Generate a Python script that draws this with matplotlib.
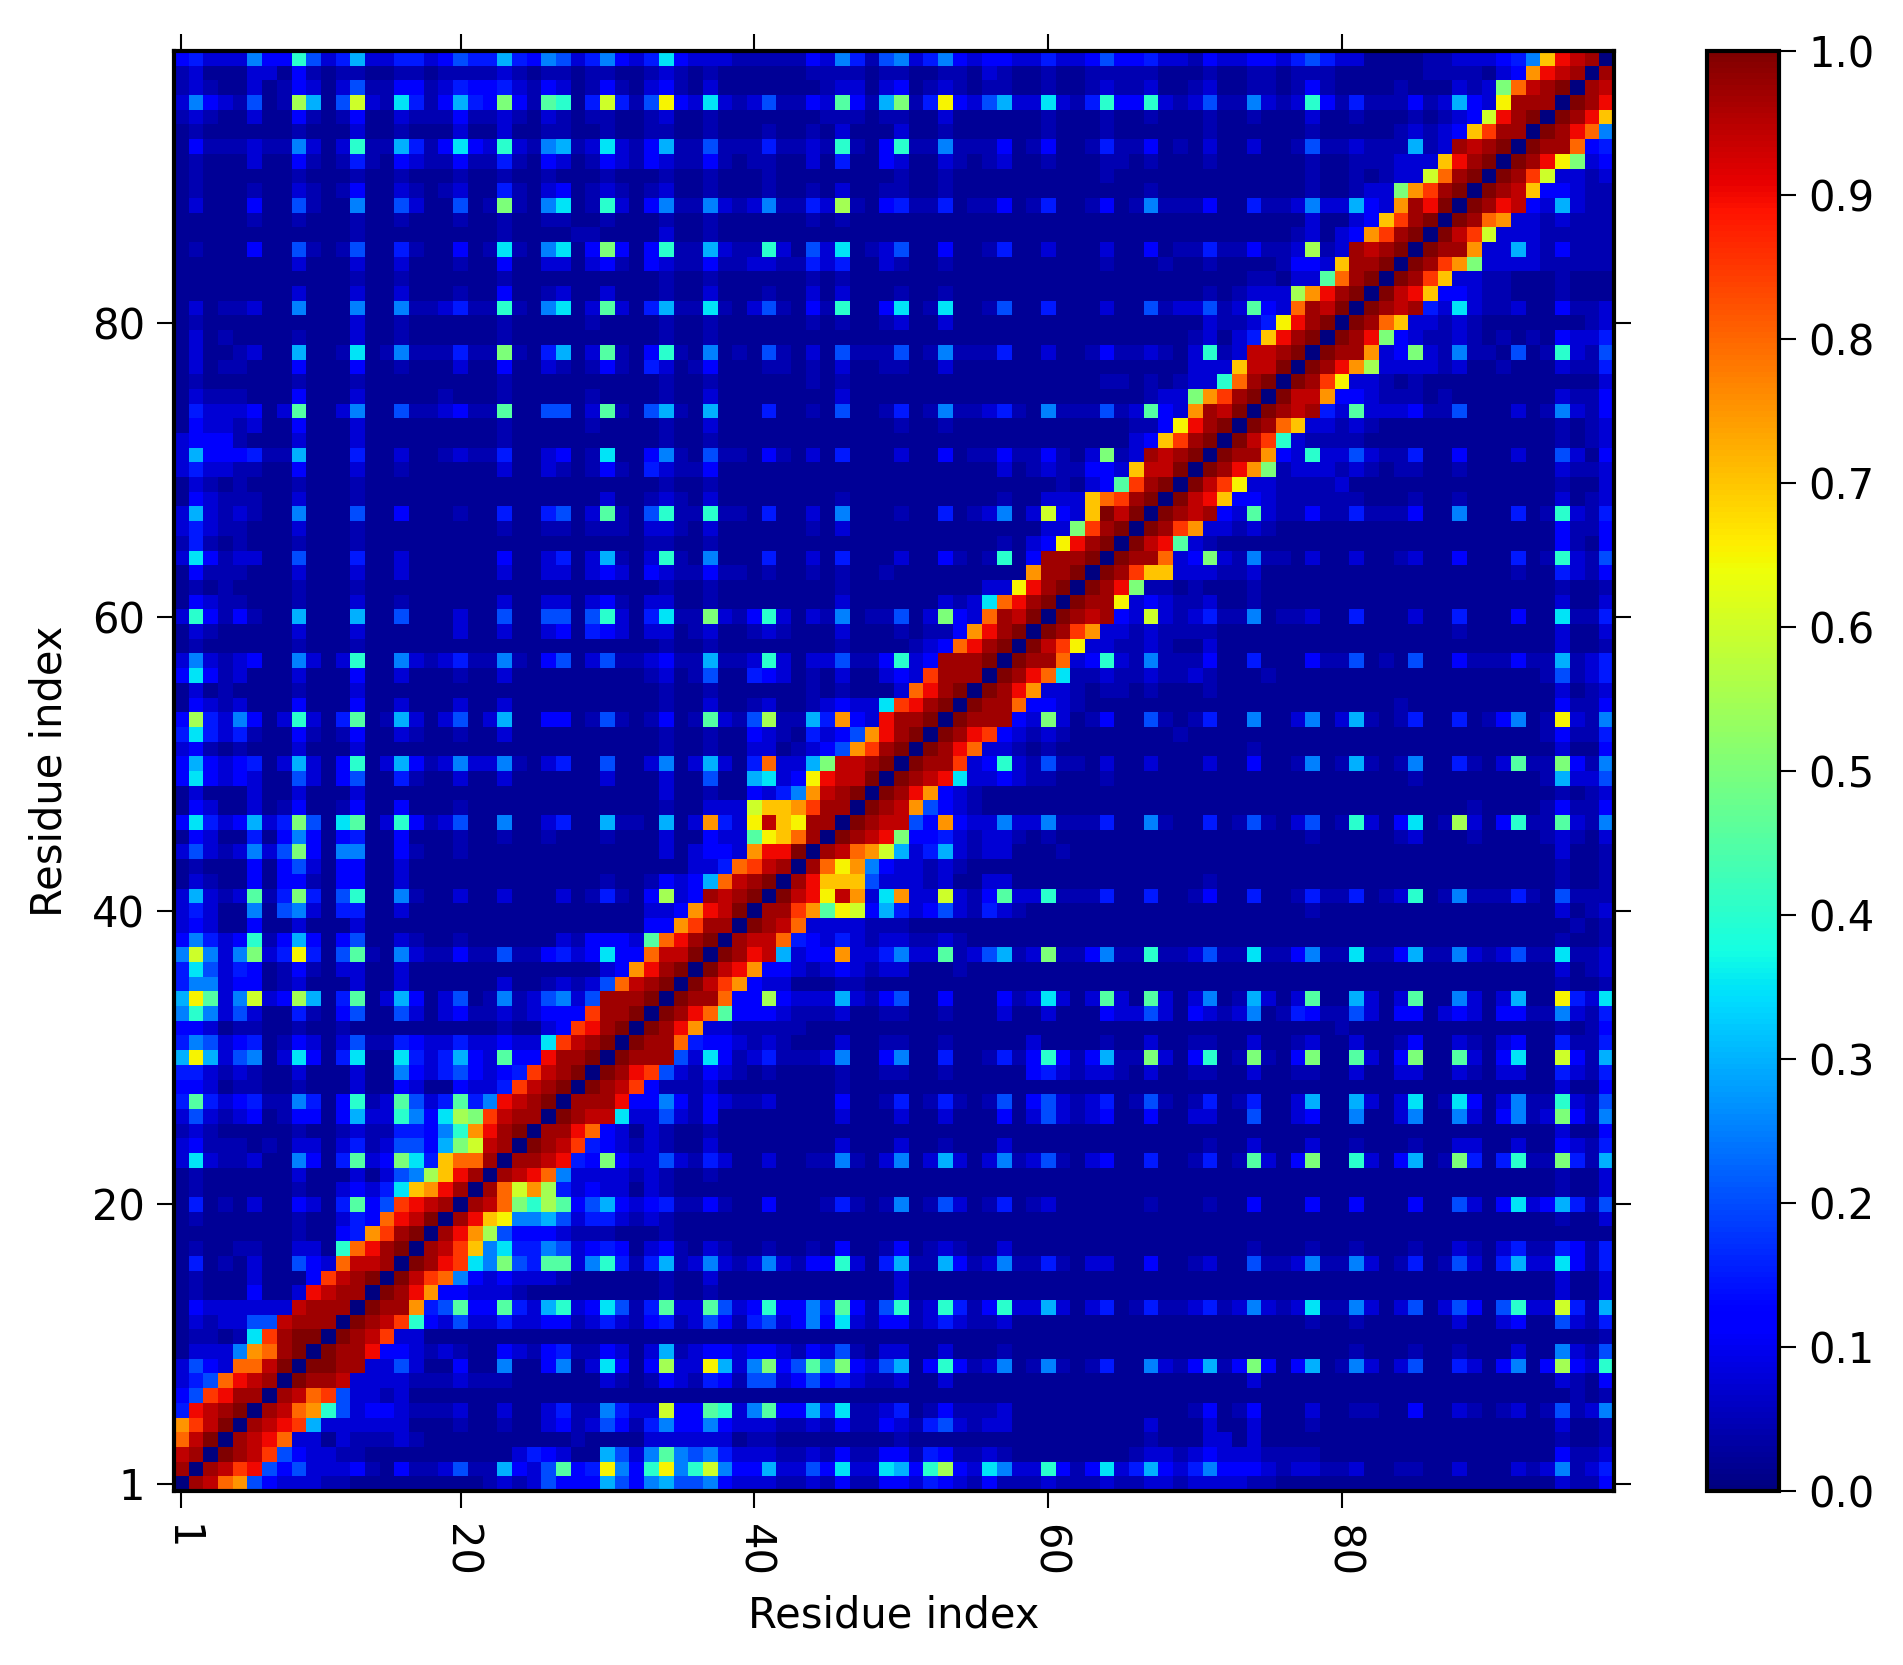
import numpy as np
import matplotlib
matplotlib.use('Agg')
import matplotlib.pyplot as plt

plt.rcParams['font.family'] = ['DejaVu Sans']
plt.rcParams['font.size'] = 10

# one character per cell
level_chars = list('x.-123456789abcdefghijkl')
level_values = [0.0, 0.02, 0.045, 0.075, 0.11, 0.15, 0.2, 0.25, 0.3, 0.35, 0.4, 0.45,
                0.5, 0.55, 0.6, 0.65, 0.7, 0.75, 0.8, 0.85, 0.9, 0.945, 0.97, 1.0]

# residue 98 at the top, residue 1 at the bottom, blocks of ten columns
cell_rows = [
    "2311152284 1361133124 3363254135 21372111-- ---2153-45 1352122113 112422311- 2112213431 1....--111 235eijkx",
    "-1...11.2- .--..--.-- --1-.--.-- ..-1-.-... ...----.-- ..--.1-..- ..-----... -..--.---. .....----. 12fijkxk",
    "-1-..1.-21 .14--22-13 2231-21.-2 -.12-.1... ....-11.12 .-1-.--..- ..-1--1..- 1..--.-2-. ...-...1-1 agjklxkj",
    "1521-4.-b6 .4c1-73-26 32a2-98.3c 3-4d2171-1 4--2192-6a -3d2146117 1-382281-1 4--51-182- 3---2-1621 dkkkxlki",
    "-1-..1..2- .-2..1---2 --1-.1-.-- ..-1..-... ....---.-- ..1......- ...-..-... -..-...1.. -...-.-12c iklxlkie",
    ".-......-. ..1..-...1 ..1..--..- ..--..-... -..-.1...1 ..-......- ...-...... -......-.. ...-1-12eh kkxlkig5",
    ".2---1--51 .18--63-27 2181-56-17 1-26--4--- 3--1-8-.28 --5---2.-2 ..-3--2.-. 1..1..-4-- 1---6-1kjk lxlkkg23",
    ".-...1..2- .-3-.21--2 --3-.21.-2 1-21--2-.- -..1.3..21 ..1-.-1..- ...--.-... -......-.. ---111eikl xlkida12",
    ".-......-. ..-..-...- ..-..-...- ...-..-... -........- ..-....... ...-...... .......-.. -.-11cgklx lkhc11-1",
    ".-...-..1- .-2..1-.-1 ..3-.12.-1 -.-1..-... -..-.1..-- ..-....... ......-... .......-.. -11afhklxl kje221--",
    ".1...2..4- ..5..41..4 .-a-.57.-8 1.25--51-1 5--31b-.23 --3.--2.-3 ..-2.-5--- 2..3--1511 621fkilxlk ij2161--",
    ".....-..-. ..-..-...- ..-..--..- ...-..-... ...-.-.... .......... .......... .......1.. 12ehklxlkg f11-1---",
    ".......... ..-....... ..-....--. ...1..-... .......... .......... .......... ......-1.1 2fhklxljhc 111-----",
    ".-...2..4- .-4..3-..2 .-7-.57.2a 2.28--61-- 81.417.-14 ..2..-3..1 ...1..2.-- 3--2--1b-1 kjklxlkkf1 161-2---",
    "........1. ..1..1...- ..2..11.12 -.21--2--1 1--313..1- ..-....... ...-...-.. -....-221e kklxlkhfa1 111-----",
    ".......... ..-..-.... ..-....... ...-..-... ...-.-.... .......... .......... ...--.119g klxlkhe11- -...-...",
    "........1. ..1..1...- ..2..-1..1 ...-..1... -..1.1...- ..-....... .......... -.-111bfik lxljie221- -...-...",
    ".1.--1..5. ..5..5--13 --8-.57.19 1.36--7-.1 4-.2-8..27 .-7..-4..3 ...1..4-11 4-1921gkjl xlkjk3171- -1..2--1",
    ".-........ ..1..-.... ..-.....-. ...-..-... ...-.-..-1 ..1....... .......... 1--13diklx lkge11-1-. ......-1",
    ".1.-....-. ..1..-.... ..-....... ...-..-... .......... .......... .........- 1.13eiklxl kia21--1-. -.-.2113",
    ".1..-1..6. .-7.-5---3 --a-.36.19 -.28-.5.-. 4-.1.4---4 .-5---3..1 ..-2--1-.1 8-1jjklxlk kf12a1-5-- .4.-81-4",
    ".1.--...2. ..2..-...1 ..2..1-.-2 -.31.-2... --.-.1..-- ..1....... .........1 11ejjlxlki fb1111-1.. -...1--3",
    ".-......-. ..-....... ..-....... ...-..-... ...-.-.... .......... ...--.-.-1 18gklxlkhd 11-.-..... .......1",
    ".1---...2. ..1.....-. ..-.....-. ...-..1... .....1.... .......... ......-11a fhklxljjf2 21---.-... ....1--2",
    ".31112.19. .15..4--12 --9..44.19 -.46-.6... 3..-.4..-3 .-5--13-.5 ---4-1921f kjlxlkjk31 91112--4.. .1.-51-2",
    ".211-1..2. ..1....... ..-.....-. ...-..1... .........- ..-....... .....--2di klxlkge11- 1-........ ....-.-1",
    "1222-...1. ..1....... ..-....... ...-..-... .......... .......... .....12ehk lxljh81--- -......... ....-.-1",
    "162223--6. ..3..1..-1 --3..12.-7 ..25-.4--. 2-.1.3...1 ..2.--2--2 -.1a-1kjkl xlkkf21811 41--3..2.. .1..41.2",
    "1311--..2. ..1..-.... ..1..1-.-2 -.31--2... .......... ......1.-1 --221ejjlx lkifa-111- 1-.--..-.. ....1--1",
    ".1-.-...-. ..-....... .......... ...-..-... .......... .......... -.129hklxl jhd11----1 .......... ....-..1",
    ".21---..1. ..-....... .........1 ..-1-.1... .....-.... ......-..1 11eghklxlj ie221----- -...-..-.. ....1.-1",
    "161-1-..5. ..4..2...- ..3..34.19 -.48--8--. 3..1.5...- ..3.-15.1c 21eljlxlkj k2191--2-- 3---2..5.. .3.-81-3",
    "131--...1. ..-....... ..-..--.-- -.11-.1... ...-.1.... .........1 1ahklxlkhf 11-1-..... .......... ....2--2",
    "-3-.-...-. ..-....... .......... ..--..-... .......... ......-.12 diklxlji91 -......... .......... ....2-.2",
    "172-11..4. ..3..1.... ..2..13.16 -.18-.5... 3..1.3...1 ..2-.-8.2k kklxlkkg12 a1-5--.1.. 1..-1..2.. .3.-81-4",
    ".2---...1. ..1..1.... ..1..11.12 1.21--2--. -..-.-..-. ........fk klxlkhee11 1--1...... .......... .-..31-2",
    ".-.-....-. ..-....... .......... ...-..-... .....-.... .....11dik lxlkia--.- ...-...... .......... ....-..-",
    ".21--...-. ..1..-.... ..1..11.12 -.11..-... .....1.... ..1-17gikl xlkkd121-- 1..-...... .......... ....1..1",
    "182-2-..6. ..6..4...1 ..4..44.48 1.37--a1-2 81.1-5.--4 .1a21gkjlx lkjk21c1-1 3--5.--1.. 3...1..3.. .2..7--3",
    ".1-.....1. ..1......1 ..1..12.32 1.11.-1..- 1-...1...- .--2fiklxl khf11-1--- -......... .......-.. ....1..1",
    ".-......-. ..-....... .......... ...-..-... .....-.... -12giklxlj hd11--1-.. 1......... .......... ....1..-",
    "151-12..51 .18..51-13 --5-.24.14 --12--6--1 81.114--28 12kkklxlkk g1281-5--- 2..3...2-- 4.-.4..2-- -2--6-13",
    "272-1...1. ..2..1...- ..1....... ..-1.-4..3 21.-.1..12 1hkkkxlkig 7--1--1--1 -...-..... .......... ...-4-13",
    ".1.-....-. ..1....... .......... ...-..-... ...-.-...1 giklxlkif1 1-.--.-... -......... .......... ....1.-1",
    ".21-1...2. ..2..1...1 ..1....... ...-..1..- 1..-12117h iklxlkkg22 1-........ .......... ...-...... ....2--2",
    "2b3152.181 .39.-61.14 .16..22.-4 -.-2.-91-4 b--63f21ik klxlkkk21a 1.-2..4-.- 3..5..15.1 6-.-3..3.- 25.-d1-5",
    "37313-..2- .-2..1-..- ..1....... ...-..-..2 1-.3124fik lxlkih21-1 -.......-. .......... .......... ...-2--3",
    "12-.-...1. ..1....... .......... ...-..-..1 1.-124fhkl xlkig11-.- .......... ...-...... .......... ....1..2",
    "262123.161 .28.162-15 115-.13..4 ..15.161.3 g116ajjklx lkkh1281-4 --.1..1... 1..2..-5.- 6-.-5..3-. 19--a2-5",
    "272121..41 .24..3-..1 ..1......1 ...1..4..6 712dijjlxl kji71121-- ...-...... .......... ....-..... ...-6114",
    ".1...1..1. ..1....... .......... ...1..-..2 135fjklxlk if21-..... .......... .......... .......... ....-.-1",
    ".21..1.-2. .-2..2...- .......... ...-..111c eefhkkxlkj f421-..... .......... .......... ........-. ...-2--2",
    "27312613a4 .79.182-14 ..5..13..6 --.6.1f31d jedkkxlkjj 42f2115115 ---3..5-.. 3.-4-.14.- 81.27.-b1. 28--91-5",
    ".21..3.252 .23..2...- ..-..-...- ...1..2119 degkxlkjia 2231-11-.- .......... .......-.. ...-1...-. ...-1-.1",
    "141-1514a2 .55..2-..- .......... ...1.1221f iilxkjgfc6 1361-11... -......... .......... .......... ....1..-",
    ".-...2.241 .22..1.... .......... .....113gh jkxkgdf521 1-1-...... .......... .......... .......... ....-..-",
    ".1-..2.22- .22..1.... .........- ..-2126gjk lxkieee411 1-1..11... .......... -......... .......... ....-..-",
    "161-19-3a3 .48..5-..1 ..1...1.-3 -.2b12kjkl xljidjf17f 11c1-29118 ---3..3..- 2..3..-3-- 3.-18.-5-- -3-.4---",
    "131..5.451 .33..1.... .......... ..112fijlx kkhf9dc263 1241-31-.. .......... .......-.. .......... ....1.-1",
    "121..2..1. ..1....... .......... ..22fhkkxl kjg1111--- .......... .......... .......... .......... .....-.-",
    "253128-262 .24..1-..- ......1-22 219giklxkj jg32131-11 --1-...... .......... .......... .......... ....-..-",
    "5c515a13d3 .49-.51--2 --4--23127 22gjjlxlki j6122f1135 119-146-1a --25--8--1 4--7--25-- 7--26--51- 14--7--1",
    "374132.-2- .11..1.... .........1 2fiklxljif 221-121-11 ...-...... .......... .......... .......... ....1.-1",
    "355122.-1. ..1..1.... ..1..-1-14 gjklxljhf2 11...--... .......... .......... .......... .......... ....-..-",
    "6d915c12b6 .39.162.14 .-5-14514k kklxlkkg22 b211161-24 ..2...2-17 1.191.91.1 5.-61.19.. 61.19..51. 16..d317",
    "585141..3- .24..41.12 --1-1222hk klxlkig922 21---1..-- ..-...1..1 ...21141.2 1-15.-32-- 41.22.121. 22--51-3",
    "221.--..-. .-........ ..-..12hik lxlkif11-- ---....... .......... .......... .........- .......... ....-.-2",
    "354123.-21 .14--32113 112117hjkl xlkkg3221- 1-...1..-- ..-.....1. ...-..1..- -..1..-1.. 1..-2..1-. 12..3--3",
    "6d6145.172 .37..73136 21922ikklx lkkk4172-1 3---15..25 ..3..-3-28 2-26--a1.2 8.-a-.2a.. 91.2a..91. 27..c2-6",
    "331-1-..1. ..1..52134 2123hjklxl kih41-21-. -....-..-- ..-.....23 1-11-.1..- -..1..--.. 1..11..1-. 11..31-3",
    "221.--..-. ..1..21..2 113hjklxlk jh2---1... .....-.... .......... .......... .......... .......... ....1..2",
    "393123--53 .28-194139 35ijklxkkk i2252-21-- 1....2..-3 .-3-.-4.24 1-13.-4-.- 3.-3..16.. 61.17.-72. 15--81-4",
    "141-12.-22 .26118527b ahjkkxlkjj 71141-2... .....1...1 ..1...2.14 1-12..2..1 1..4..12.. 5..15..51. 25-1a2-5",
    "-1-.....-. .-1--33258 fiklxkkig2 1.1-..-... .......... .......... .......... .......... .......... ....1..2",
    "12---.-.11 .13-14426a cjkxlkjh32 1-1-..1... .....1...1 ..-...1... .......... -..1...1.. -...-..11. .1..21-3",
    "171--1..52 .3912a73eg gkxkkji32a 21141-31.. 1..--5-.15 .161.15-14 -.12..3..- 3.-91.2a.. 81.26.-a3. 38--a3-6",
    ".-......1. ..1.145bei kxkjig5111 1-1-..-... .......... .......... .......... .......... .......... ....-..1",
    ".-......-. .12137efik xkgcfb3121 1.1-...... .......... .......... .......... .......... .......... ....-..1",
    ".3.-.1..21 .3924hijkx kjga8b9246 2123--2-.. 2...-3-.-5 .-41.-3.-1 ......-... -..2...2.. 2...2..41. 271263-4",
    ".-......-. .132gijlxk ied5564133 1-1-...... .......... .......... .......... .......... .......... ....-..1",
    "........-. .23fhklxki fb42221--- ...-...... .......... .......... .......... .......... .......... ........",
    ".-..--..11 .8giklxkjh e573354123 2.12-.1-.. -..-.2..-2 .-1-..1... .......... ...-...-.. -...-..1-. 13--32-3",
    ".3.-.1..42 1gjjkxlkih 75a4399158 3-36-151-1 51-2281.36 --62-15--3 -.11..2..- 1..4--15-- 51.-3.-41. 361172-3",
    ".-...1...2 hjklxljhg5 212111-... ...-..1... .........1 .......... .......... .......... .......... ....1..1",
    ".-...2..1i jkkxlkif22 111-...... ...-..-... .........1 .......... .......... .......... .......... ....1..1",
    ".2111111jk kkxlkkf349 2293168127 4-39119412 8225392-48 -183-28116 1.13.-3--1 3-151-17-- 51.14.142. 4811c3-6",
    ".1-1144jkk kxlkjh8214 1131122-13 1-23-142-3 4125271-22 -131--1... .......... .......-.. -......1.. 12..41-3",
    ".--.-7hkll xlkjh11... .......... .......... .......... .......... .......... .......... .......... .......-",
    ".1115fgklx lkki221-1- ..21-23--2 1.16-12212 21-214-.11 ..1...-... .......... .......... -...-..-.. .1..51-4",
    "1421ggjlxl lkk1141..2 ..5..25.17 2.2b11d615 a2495a2146 .282-15.-5 -.-3..51-2 6-2a2.26.- 51.14..31. 25.2b218",
    "134gijkxlk kj1111---1 ---......1 -.-21-32-4 4124231--1 ..1....... .......... ...1...... .......... ....1-.2",
    "24hikkxkjg h411-1.... .......... .......... .......... .......... .......... .......... .......... .....-.-",
    "3ijklxkjgf 841221---1 ..1..13--5 311c229815 922637--13 .-2---1... .........- 2.-2...1.. --..2..1-. -1.-4-15",
    "fhjlxkjih6 111111...- ..-..12-14 2-35225211 1--1-2--21 -341-11... ......1... 1..1...-.. .......... ....1..-",
    "gjlxkjig11 .1---1-... .......-.. ..111111.- -........- .......... ......-... 11.1...... .......... ....-..-",
    "jkxlkjh421 1--....... ...1321..6 4159545311 1--1-2--22 -32--1-... .....-11-1 2111----.. .......... ....2--1",
    "kxkjhi4241 112-.2--14 --6214923d 528d58c522 6114271176 28b2175118 2-27136213 52221-11-- 1..--..1.. .1-15-13",
    "xkjgf42111 --........ .-1-142226 4256445211 1--1-2--22 1321-2---1 ---1--11-1 111--..... .......... ....1--2",
]

tick_residues = [1, 20, 40, 60, 80]
cbar_ticks = [0.0, 0.1, 0.2, 0.3, 0.4, 0.5, 0.6, 0.7, 0.8, 0.9, 1.0]

lookup = dict(zip(level_chars, level_values))
rows = [r.replace(' ', '') for r in cell_rows]
matrix = np.array([[lookup[c] for c in r] for r in rows])

W, H = 1903, 1665
fig = plt.figure(figsize=(W / 300, H / 300), dpi=300)
ax = fig.add_axes([174 / W, 1 - 1491 / H, 1440 / W, 1440 / H])
im = ax.imshow(matrix, cmap='jet', vmin=0, vmax=1, interpolation='nearest',
               origin='upper', extent=[0.5, 98.5, 0.5, 98.5], aspect='auto')

ax.set_xticks(tick_residues)
ax.set_yticks(tick_residues)
ax.set_xticklabels([str(t) for t in tick_residues], rotation=270)
ax.tick_params(axis='x', direction='out', length=4, width=0.5, pad=4, top=True, bottom=True)
ax.tick_params(axis='y', direction='out', length=4, width=0.5, pad=3, left=True, right=True)
for spine in ax.spines.values():
    spine.set_linewidth(1.0)
ax.set_xlabel('Residue index', labelpad=4)
ax.set_ylabel('Residue index', labelpad=5)

cax = fig.add_axes([1707 / W, 1 - 1491 / H, 72 / W, 1440 / H])
cb = fig.colorbar(im, cax=cax, ticks=cbar_ticks)
cb.ax.tick_params(direction='out', length=4, width=0.5, pad=3)
cb.outline.set_linewidth(1.0)
cb.ax.set_yticklabels(['%.1f' % t for t in cbar_ticks])

fig.savefig('out.png', dpi=300)
